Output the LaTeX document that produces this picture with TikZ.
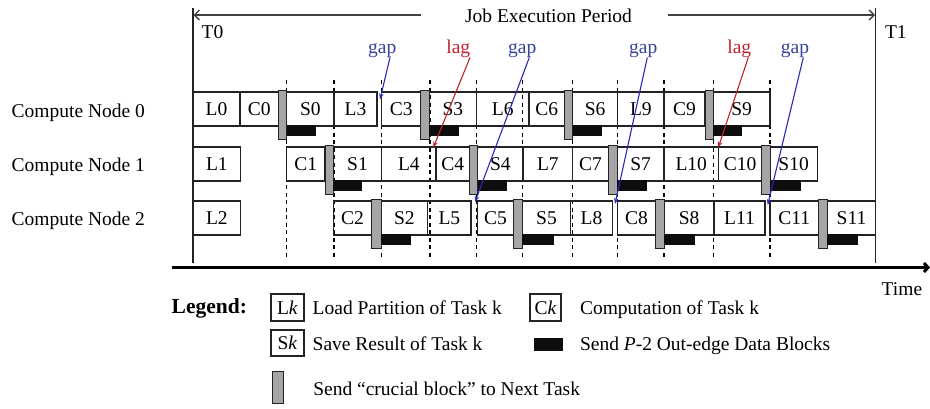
\documentclass[tikz,border=0pt]{standalone}
\usepackage{fontspec}
\setmainfont{Liberation Serif}
\usetikzlibrary{arrows.meta}
\definecolor{gapblue}{RGB}{55,65,155}
\definecolor{linkblue}{RGB}{40,40,185}
\definecolor{lagred}{RGB}{190,35,45}
\definecolor{bargrey}{RGB}{165,165,165}
\definecolor{edgecol}{RGB}{35,35,35}
\newcommand\rnode[7]{%
  \pgfmathsetmacro\rnw{(#4)-(#3)}\pgfmathsetmacro\rnh{(#6)-(#5)}%
  \pgfmathsetmacro\rnx{((#3)+(#4))/2}\pgfmathsetmacro\rny{((#5)+(#6))/2}%
  \node[#1, minimum width=\rnw pt, minimum height=\rnh pt] (#2) at (\rnx,\rny) {#7};}
\newcommand\tbox[5]{\rnode{taskbox}{#1}{#2}{#3}{#4}{#4+34}{#5}}
\newcommand\gbar[4]{\rnode{greybar}{#1}{#2}{#3}{#4-1.5}{#4+47}{}}
\newcommand\bbar[4]{\rnode{blackbar}{#1}{#2}{#3}{#4+33}{#4+44}{}}
\begin{document}
\begin{tikzpicture}[x=1pt,y=-1pt,
  font=\fontsize{19.5}{22}\selectfont,
  every node/.style={inner sep=0pt, outer sep=0pt},
  taskbox/.style={draw=edgecol, line width=1.1pt},
  greybar/.style={draw=edgecol, line width=0.9pt, fill=bargrey},
  blackbar/.style={fill=black!95},
  dline/.style={draw=black, line width=1.1pt, dash pattern=on 4pt off 3.5pt},
  vline/.style={draw=edgecol, line width=1.1pt},
  toparr/.style={draw=black!75, line width=1.4pt, -{Straight Barb[length=5pt,width=10pt]}},
  axisline/.style={draw=black, line width=3pt, -{Straight Barb[length=4pt,width=9pt]}},
  gaplabel/.style={text=gapblue, anchor=base},
  laglabel/.style={text=lagred, anchor=base},
  gaparrow/.style={draw=linkblue, line width=1.1pt, -{Stealth[length=6pt,width=4.5pt]}},
  lagarrow/.style={draw=lagred, line width=1.1pt, -{Stealth[length=6pt,width=4.5pt]}},
  plain/.style={anchor=base west}]
\useasboundingbox (0,0) rectangle (930,408);

% time frame
\coordinate (t0top) at (193,8); \coordinate (t0bot) at (193,263);
\coordinate (t1top) at (875.7,8); \coordinate (t1bot) at (875.7,263);
\draw[vline] (t0top) -- (t0bot);
\draw[vline] (t1top) -- (t1bot);
\node[anchor=base] (title) at (548.5,22.5) {Job Execution Period};
\coordinate (arl0) at (420.7,15); \coordinate (arl1) at (193.5,15);
\coordinate (arr0) at (668,15); \coordinate (arr1) at (875.2,15);
\draw[toparr] (arl0) -- (arl1);
\draw[toparr] (arr0) -- (arr1);
\node[plain] (T0) at (201.7,38.3) {T0};
\node[plain] (T1) at (885,38.3) {T1};

% row labels
\node[plain] (cn0) at (11.7,117.7) {Compute Node 0};
\node[plain] (cn1) at (11.7,171.7) {Compute Node 1};
\node[plain] (cn2) at (11.7,225.7) {Compute Node 2};

% dashed step lines
\foreach \i/\x in {1/286.7,2/334,3/381.7,4/430,5/476.7,6/522.5,7/572.7,8/617.5,9/664,10/713.5,11/770}{
  \coordinate (dt\i) at (\x,80); \coordinate (db\i) at (\x,258);
  \draw[dline] (dt\i) -- (db\i);}

% row 0
\tbox{L0}{193}{240}{92}{L0}
\tbox{C0}{240}{278.3}{92}{C0}
\tbox{S0}{286.7}{334}{92}{S0}
\tbox{L3}{334}{377}{92}{L3}
\tbox{C3}{381.7}{420.7}{92}{C3}
\tbox{S3}{429.3}{476.5}{92}{S3}
\tbox{L6}{476.5}{529}{92}{L6}
\tbox{C6}{529}{564.5}{92}{C6}
\tbox{S6}{572.7}{617.7}{92}{S6}
\tbox{L9}{617.7}{664}{92}{L9}
\tbox{C9}{664}{705}{92}{C9}
\tbox{S9}{713.3}{770}{92}{S9}
% row 1
\tbox{L1}{193}{240.7}{147}{L1}
\tbox{C1}{286.7}{325}{147}{C1}
\tbox{S1}{333.3}{381.7}{147}{S1}
\tbox{L4}{381.7}{436}{147}{L4}
\tbox{C4}{436}{469.3}{147}{C4}
\tbox{S4}{477.7}{523}{147}{S4}
\tbox{L7}{523}{572.7}{147}{L7}
\tbox{C7}{572.7}{608.3}{147}{C7}
\tbox{S7}{617.3}{664}{147}{S7}
\tbox{L10}{664}{718.5}{147}{L10}
\tbox{C10}{718.5}{761.7}{147}{C10}
\tbox{S10}{770}{817.3}{147}{S10}
% row 2
\tbox{L2}{193}{240.7}{201}{L2}
\tbox{C2}{333.3}{371.7}{201}{C2}
\tbox{S2}{381}{427.7}{201}{S2}
\tbox{L5}{427.7}{471}{201}{L5}
\tbox{C5}{477.7}{513.3}{201}{C5}
\tbox{S5}{522.3}{570.7}{201}{S5}
\tbox{L8}{570.7}{612.3}{201}{L8}
\tbox{C8}{617.3}{655.7}{201}{C8}
\tbox{S8}{664.3}{714}{201}{S8}
\tbox{L11}{714}{765}{201}{L11}
\tbox{C11}{770}{818.3}{201}{C11}
\tbox{S11}{827.3}{875.7}{201}{S11}

% crucial-block bars
\gbar{g0}{278.3}{286.7}{92}
\gbar{g3}{420.7}{429.3}{92}
\gbar{g6}{564.5}{572.7}{92}
\gbar{g9}{705}{713.3}{92}
\gbar{g1}{325}{333.3}{147}
\gbar{g4}{469.3}{477.7}{147}
\gbar{g7}{608.3}{617.3}{147}
\gbar{g10}{761.7}{770}{147}
\gbar{g2}{371.7}{381}{201}
\gbar{g5}{513.3}{522.3}{201}
\gbar{g8}{655.7}{664.3}{201}
\gbar{g11}{818.3}{827.3}{201}
% out-edge data blocks
\bbar{b0}{286.7}{316}{92}
\bbar{b3}{429.3}{458.7}{92}
\bbar{b6}{572.7}{601.7}{92}
\bbar{b9}{713.3}{742.3}{92}
\bbar{b1}{333.3}{362}{147}
\bbar{b4}{477.7}{507.3}{147}
\bbar{b7}{617.3}{647.3}{147}
\bbar{b10}{770}{800.7}{147}
\bbar{b2}{381}{411}{201}
\bbar{b5}{522.3}{554}{201}
\bbar{b8}{664.3}{695}{201}
\bbar{b11}{827.3}{857.7}{201}

% gap / lag annotations
\node[gaplabel] (gapA) at (382.2,53.3) {gap};
\node[laglabel] (lagA) at (458.3,53.3) {lag};
\node[gaplabel] (gapB) at (522.2,53.3) {gap};
\node[gaplabel] (gapC) at (643.3,53.3) {gap};
\node[laglabel] (lagB) at (739.3,53.3) {lag};
\node[gaplabel] (gapD) at (795,53.3) {gap};
\coordinate (tipA) at (380,99.5);
\coordinate (tipLA) at (433.3,147.5);
\coordinate (tipB) at (475,202);
\coordinate (tipC) at (615,204);
\coordinate (tipLB) at (718.3,147.5);
\coordinate (tipD) at (767.7,205);
\draw[gaparrow] ([xshift=7.8pt]gapA.south) -- (tipA);
\draw[lagarrow] ([xshift=11.7pt]lagA.south) -- (tipLA);
\draw[gaparrow] ([xshift=7.1pt]gapB.south) -- (tipB);
\draw[gaparrow] ([xshift=4pt]gapC.south) -- (tipC);
\draw[lagarrow] ([xshift=9pt]lagB.south) -- (tipLB);
\draw[gaparrow] ([xshift=8.3pt]gapD.south) -- (tipD);

% time axis
\coordinate (ax0) at (171.7,267.5); \coordinate (ax1) at (930,267.5);
\draw[axisline] (ax0) -- (ax1);
\node[plain] (time) at (881.7,295) {Time};

% legend
\node[plain, font=\fontsize{21.5}{24}\selectfont\bfseries] (legend) at (171.7,313.3) {Legend:};
\rnode{taskbox}{lgL}{271}{304}{294}{321}{L\textit{k}}
\node[plain] (lgLt) at (312.7,314.3) {Load Partition of Task k};
\rnode{taskbox}{lgC}{530}{561}{294}{321}{C\textit{k}}
\node[plain] (lgCt) at (580,314.3) {Computation of Task k};
\rnode{taskbox}{lgS}{271}{304}{330}{356}{S\textit{k}}
\node[plain] (lgSt) at (312.7,350) {Save Result of Task k};
\rnode{blackbar}{lgB}{534.3}{563.3}{338.3}{351}{}
\node[plain] (lgBt) at (580,350) {Send \textit{P}-2 Out-edge Data Blocks};
\rnode{greybar}{lgG}{272.3}{283.3}{371}{403.3}{}
\node[plain] (lgGt) at (313.3,395) {Send “crucial block” to Next Task};
\end{tikzpicture}
\end{document}
